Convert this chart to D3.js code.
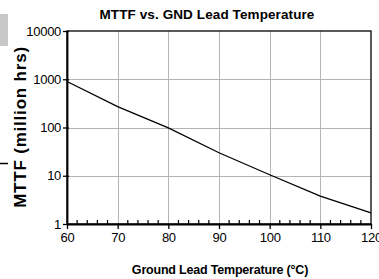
<!DOCTYPE html>
<html><head><meta charset="utf-8">
<script src="https://cdn.jsdelivr.net/npm/d3@7"></script>
<style>
html,body{margin:0;padding:0;background:#fff;}
svg{display:block;font-family:"Liberation Sans",Arial,sans-serif;}
</style></head>
<body>
<svg id="c" width="379" height="279"></svg>
<script>
const temps = [60, 70, 80, 90, 100, 110, 120];
const mttf = [900, 270, 98, 30, 10.5, 3.8, 1.7];
const xTicks = [60, 70, 80, 90, 100, 110, 120];
const yTicks = [1, 10, 100, 1000, 10000];
const title = "MTTF vs. GND Lead Temperature";
const xTitle = "Ground Lead Temperature (°C)";
const yTitle = "MTTF (million hrs)";

const svg = d3.select("#c");
const L = 67, R = 371, T = 31, B = 224;
const x = d3.scaleLinear().domain([60, 120]).range([L, R]);
const y = d3.scaleLog().domain([1, 10000]).range([B, T]);

// left gray artifact
svg.append("rect").attr("x", 0).attr("y", 14).attr("width", 8).attr("height", 32).attr("fill", "#c8c8c8");
svg.append("line").attr("x1", 0).attr("x2", 8).attr("y1", 163.5).attr("y2", 163.5).attr("stroke", "#000").attr("stroke-width", 1.5);

// gridlines
const g = svg.append("g");
g.selectAll(".vg").data(xTicks.slice(1, -1)).enter().append("line")
  .attr("x1", d => Math.round(x(d)) + 0.5).attr("x2", d => Math.round(x(d)) + 0.5)
  .attr("y1", T).attr("y2", B).attr("stroke", "#b4b4b4").attr("stroke-width", 1);
g.selectAll(".hg").data(yTicks.slice(1, -1)).enter().append("line")
  .attr("y1", d => Math.round(y(d)) + 0.5).attr("y2", d => Math.round(y(d)) + 0.5)
  .attr("x1", L).attr("x2", R).attr("stroke", "#b4b4b4").attr("stroke-width", 1);

// frame
svg.append("rect").attr("x", L).attr("y", T).attr("width", R - L).attr("height", B - T)
  .attr("fill", "none").attr("stroke", "#000").attr("stroke-width", 1.3);

// x axis
const xAxis = d3.axisBottom(x).tickValues(xTicks).tickSize(5).tickSizeOuter(0).tickPadding(4).tickFormat(d3.format("d"));
const xa = svg.append("g").attr("transform", `translate(0,${B})`).call(xAxis);
xa.select(".domain").attr("stroke", "#000").attr("stroke-width", 1.8);
xa.selectAll(".tick line").attr("stroke", "#000").attr("stroke-width", 1.3);
xa.selectAll(".tick text").attr("font-size", 13).attr("fill", "#000").attr("letter-spacing", "-0.3px")
  .attr("font-family", "Liberation Sans, Arial, sans-serif");
// minor x ticks inward
const minor = d3.range(60, 121, 2).filter(v => v % 10 !== 0);
svg.append("g").selectAll("line").data(minor).enter().append("line")
  .attr("x1", d => x(d)).attr("x2", d => x(d)).attr("y1", B).attr("y2", B - 4)
  .attr("stroke", "#000").attr("stroke-width", 1.2);

// y axis
const yAxis = d3.axisLeft(y).tickValues(yTicks).tickSize(4).tickSizeOuter(0).tickPadding(2).tickFormat(d3.format("d"));
const ya = svg.append("g").attr("transform", `translate(${L},0)`).call(yAxis);
ya.select(".domain").attr("stroke", "#000").attr("stroke-width", 1.8);
ya.selectAll(".tick line").attr("stroke", "#000").attr("stroke-width", 1.3).attr("x2", -4).attr("x1", 2);
ya.selectAll(".tick text").attr("font-size", 13).attr("fill", "#000").attr("letter-spacing", "-0.3px")
  .attr("font-family", "Liberation Sans, Arial, sans-serif");

// data line
const line = d3.line().x((d, i) => x(temps[i])).y(d => y(d));
svg.append("path").datum(mttf).attr("d", line).attr("fill", "none").attr("stroke", "#000").attr("stroke-width", 1.3);

// titles
svg.append("text").attr("x", 207).attr("y", 19).attr("text-anchor", "middle")
  .attr("font-size", 13.5).attr("font-weight", "bold").attr("letter-spacing", "0.1px").text(title);
svg.append("text").attr("x", 220).attr("y", 274).attr("text-anchor", "middle")
  .attr("font-size", 12.5).attr("font-weight", "bold").attr("letter-spacing", "-0.2px").text(xTitle);
svg.append("text").attr("transform", "translate(26,127) rotate(-90)").attr("text-anchor", "middle")
  .attr("font-size", 17).attr("font-weight", "bold").attr("letter-spacing", "0.8px").text(yTitle);
</script>
</body></html>
